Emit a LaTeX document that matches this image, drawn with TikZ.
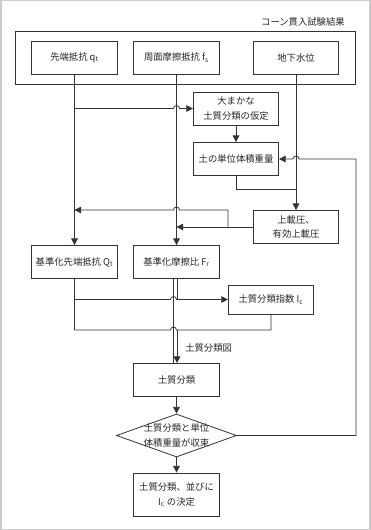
\documentclass[tikz,border=0pt]{standalone}
\usepackage{fontspec}
\setmainfont{Noto Sans CJK JP}
\usetikzlibrary{arrows.meta,shapes.geometric,calc}

\tikzset{
  txt/.style={font=\fontsize{7}{11}\selectfont, text=black!85, align=center, inner sep=0pt},
  box/.style={txt, draw=black!80, line width=0.6pt, minimum width=64pt, minimum height=24.75pt, inner sep=1pt},
  cptframe/.style={draw=black!80, line width=0.6pt, minimum width=255pt, minimum height=39.75pt, inner sep=0pt},
  decision/.style={diamond, draw=black!80, line width=0.6pt, minimum width=90pt, minimum height=32.25pt, inner sep=0pt},
  link/.style={draw=black!80, line width=0.6pt},
  arr/.style={link, -{Triangle[length=5pt,width=5pt]}}
}
% line hops over a crossing vertical line
\newcommand{\hopR}[1]{-- ($(#1)+(-3,0)$) arc[start angle=180,end angle=0,radius=3]}
\newcommand{\hopL}[1]{-- ($(#1)+(3,0)$) arc[start angle=0,end angle=180,radius=3]}

\begin{document}
\begin{tikzpicture}[x=0.75pt,y=0.75pt]
  \useasboundingbox (0,0) rectangle (370,-530);
  \draw[black!20, line width=1.5pt] (0.5,-0.5) rectangle (369.5,-529.5);

  % Cone penetration test results
  \node[txt, anchor=east] (title) at (345,-22) {コーン貫入試験結果};
  \node[cptframe] (cpt) at (185,-57.5) {};
  \node[box] (qt) at (74.5,-57.5) {先端抵抗 q\textsubscript{t}};
  \node[box] (fs) at (176.5,-57.5) {周面摩擦抵抗 f\textsubscript{s}};
  \node[box] (gw) at (296,-57.5) {地下水位};

  % Unit weight and overburden
  \node[box] (assume) at (236,-108.5) {大まかな\\土質分類の仮定};
  \node[box] (weight) at (236,-159) {土の単位体積重量};
  \node[box] (overb) at (296,-227) {上載圧、\\有効上載圧};

  % Normalised values
  \node[box] (Qt) at (74.5,-262) {基準化先端抵抗 Q\textsubscript{t}};
  \node[box] (Fr) at (176.5,-262) {基準化摩擦比 F\textsubscript{r}};
  \node[box, minimum height=21.75pt] (Ic) at (271,-299.5) {土質分類指数 I\textsubscript{c}};

  % Classification and check
  \node[box] (soil) at (176.5,-380) {土質分類};
  \node[decision] (conv) at (176.5,-435.5) {};
  \node[txt] (convtxt) at (conv) {土質分類と単位\\体積重量が収束};
  \node[box, minimum height=32.25pt] (final) at (176.5,-494.5) {土質分類、並びに\\I\textsubscript{c} の決定};
  \node[txt, anchor=west] (maplbl) at (185,-348) {土質分類図};

  \coordinate (j1) at (0,-189);
  \coordinate (j2) at (228,-227);
  \coordinate (j3) at (228,-210);
  \coordinate (j5) at (0,-330);
  \coordinate (FrL) at ($(Fr.south)+(-3,0)$);
  \coordinate (FrR) at ($(Fr.south)+(0.5,0)$);
  \coordinate (fb) at (356,-159);

  % Connectors
  \draw[arr] (qt.south) -- (Qt.north);
  \draw[arr] (fs.south) -- (Fr.north);
  \draw[arr] (gw.south) -- (overb.north);
  \draw[arr] (qt.south |- assume.west) \hopR{fs.south |- assume.west} -- (assume.west);
  \draw[arr] (assume.south) -- (weight.north);
  \draw[link] (weight.south) |- (gw.south |- j1);
  \draw[arr] (overb.west) -- (fs.south |- overb.west);
  \draw[arr] (j2) -- (j3) \hopL{fs.south |- j3} -- (qt.south |- j3);

  \draw[link] (Qt.south) -- (Qt.south |- j5);
  \draw[link] (Qt.south |- Ic.west) \hopR{FrL |- Ic.west} -- (FrR |- Ic.west);
  \draw[arr] (FrR) |- (Ic.west);
  \draw[link] (Qt.south |- j5) \hopR{FrL |- j5} -- (Ic.south |- j5) -- (Ic.south);
  \draw[link] (FrL) -- (FrL |- soil.north);
  \draw[arr] (FrR |- j5) -- (FrR |- soil.north);

  \draw[arr] (soil.south) -- (conv.north);
  \draw[arr] (conv.south) -- (final.north);
  \draw[arr] (conv.east) -| (fb) \hopL{gw.south |- fb} -- (weight.east);
\end{tikzpicture}
\end{document}
